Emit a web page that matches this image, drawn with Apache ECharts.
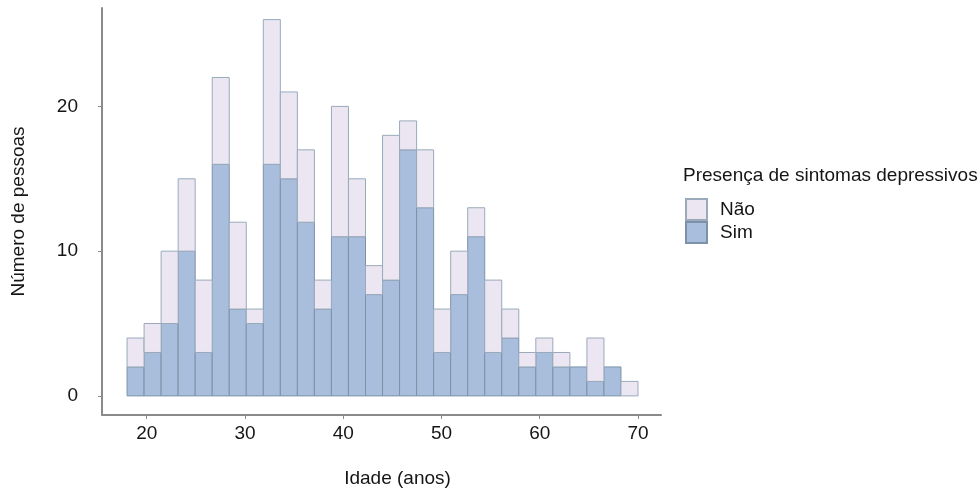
<!DOCTYPE html>
<html>
<head>
<meta charset="utf-8">
<script src="https://cdn.jsdelivr.net/npm/echarts@6/dist/echarts.min.js"></script>
<style>
  html, body { margin: 0; padding: 0; background: #fff; }
  #chart { width: 978px; height: 493px; }
</style>
</head>
<body>
<div id="chart"></div>
<script>
// histogram: 30 bins from 18 to 70 years
var binStart = 18;
var binEnd = 70;
var binCount = 30;
// counts per bin
var sim = [2, 3, 5, 10, 3, 16, 6, 5, 16, 15, 12, 6, 11, 11, 7, 8, 17, 13, 3, 7, 11, 3, 4, 2, 3, 2, 2, 1, 2, 0];
var nao = [2, 2, 5, 5, 5, 6, 6, 1, 10, 6, 5, 2, 9, 4, 2, 10, 2, 4, 3, 3, 2, 5, 2, 1, 1, 1, 0, 3, 0, 1];
var xTicks = [20, 30, 40, 50, 60, 70];
var yTicks = [0, 10, 20];

var chart = echarts.init(document.getElementById('chart'), null, { renderer: 'canvas' });
var font = '"Liberation Sans", Arial, sans-serif';
var txt = '#151515';
var binW = (binEnd - binStart) / binCount;

// rows: [x0, x1, y0, y1]
function rows(base, vals) {
  return vals.map(function (v, i) {
    var b = base ? base[i] : 0;
    return [binStart + i * binW, binStart + (i + 1) * binW, b, b + v];
  });
}

function renderRect(params, api) {
  var p0 = api.coord([api.value(0), api.value(2)]);
  var p1 = api.coord([api.value(1), api.value(3)]);
  if (api.value(3) === api.value(2)) return null;
  return {
    type: 'rect',
    shape: { x: p0[0], y: p1[1], width: p1[0] - p0[0], height: p0[1] - p1[1] },
    style: api.style()
  };
}

var option = {
  animation: false,
  title: {
    text: 'Presença de sintomas depressivos',
    left: 683, top: 166, padding: 0,
    textStyle: { fontFamily: font, fontSize: 19, fontWeight: 'normal', color: txt }
  },
  legend: {
    data: ['Não', 'Sim'],
    orient: 'vertical',
    left: 685, top: 198, padding: 0,
    itemWidth: 21, itemHeight: 21, itemGap: 0,
    icon: 'rect',
    textStyle: { fontFamily: font, fontSize: 19, color: txt, padding: [0, 0, 0, 8] }
  },
  grid: { left: 102, right: 317, top: 8, bottom: 75 },
  xAxis: {
    type: 'value',
    min: 15.45, max: 72.34,
    name: 'Idade (anos)',
    nameLocation: 'middle',
    nameGap: 54,
    nameTextStyle: { fontFamily: font, fontSize: 19, color: txt, padding: [0, 0, 0, 32] },
    axisLine: { show: true, onZero: false, lineStyle: { color: '#8a8a8a', width: 2 } },
    axisTick: { show: true, length: 4, customValues: xTicks, lineStyle: { color: '#8a8a8a' } },
    axisLabel: { customValues: xTicks, margin: 9, fontFamily: font, fontSize: 19, color: txt },
    splitLine: { show: false }
  },
  yAxis: {
    type: 'value',
    min: -1.32, max: 26.8,
    name: 'Número de pessoas',
    nameLocation: 'middle',
    nameRotate: 90,
    nameGap: 74,
    nameTextStyle: { fontFamily: font, fontSize: 19, color: txt },
    axisLine: { show: true, onZero: false, lineStyle: { color: '#8a8a8a', width: 2 } },
    axisTick: { show: true, length: 4, customValues: yTicks, lineStyle: { color: '#8a8a8a' } },
    axisLabel: { customValues: yTicks, margin: 24, fontFamily: font, fontSize: 19, color: txt },
    splitLine: { show: false }
  },
  series: [
    {
      name: 'Sim',
      type: 'custom',
      renderItem: renderRect,
      encode: { x: [0, 1], y: [2, 3] },
      itemStyle: { color: '#a8bedc', borderColor: '#7d92a8', borderWidth: 1 },
      data: rows(null, sim)
    },
    {
      name: 'Não',
      type: 'custom',
      renderItem: renderRect,
      encode: { x: [0, 1], y: [2, 3] },
      itemStyle: { color: '#ebe6f2', borderColor: '#9aaabb', borderWidth: 1 },
      data: rows(sim, nao)
    }
  ]
};

chart.setOption(option);
</script>
</body>
</html>
